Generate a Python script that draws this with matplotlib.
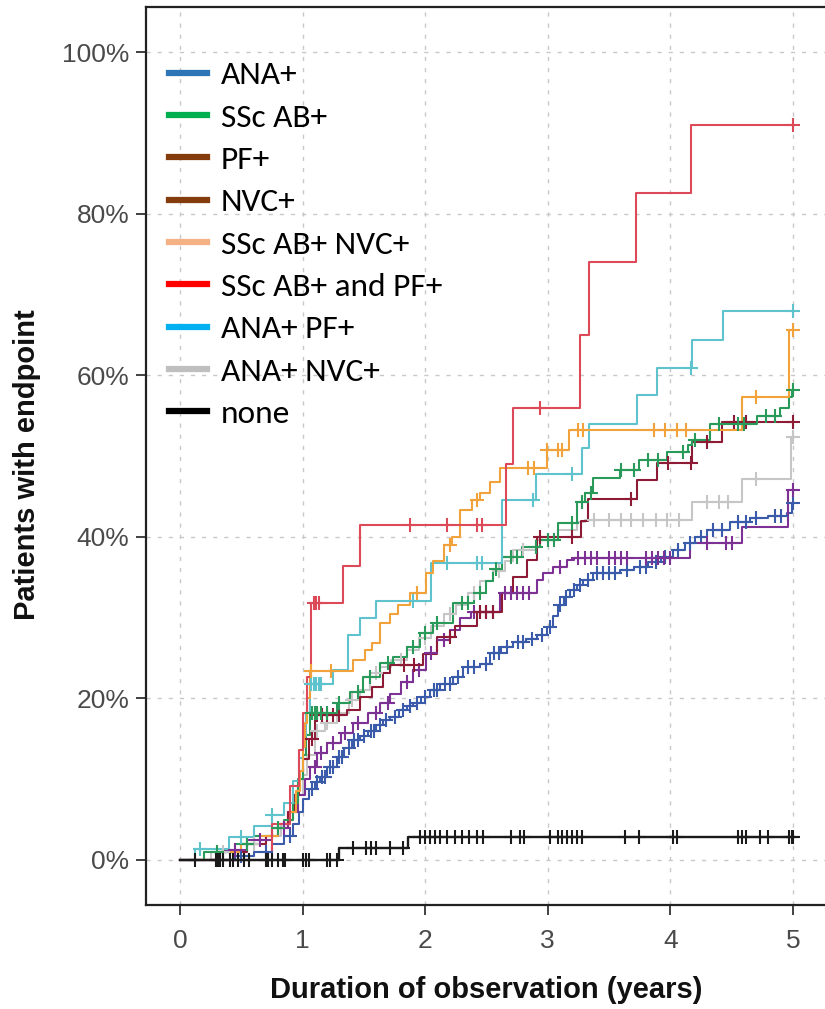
import numpy as np
import matplotlib
matplotlib.use("Agg")
import matplotlib.pyplot as plt
import matplotlib.font_manager as fm
from matplotlib.lines import Line2D

# ---- data (time in years, % with endpoint) ----
end_time = 5.0

# ANA+
blue_t = [0, 0.45, 0.6, 0.75, 0.85, 0.92, 0.97, 1.0, 1.05, 1.1, 1.14, 1.2, 1.28, 1.34, 1.4, 1.47,
          1.53, 1.6, 1.66, 1.71, 1.79, 1.85, 1.9, 1.97, 2.04, 2.12, 2.23, 2.31, 2.45, 2.53, 2.62,
          2.72, 2.82, 2.91, 2.99, 3.04, 3.08, 3.13, 3.18, 3.24, 3.29, 3.37, 3.59, 3.7, 3.82, 3.92,
          4.02, 4.12, 4.2, 4.3, 4.49, 4.65, 4.8, 4.95, 4.99]
blue_v = [0, 0.5, 1.0, 2.0, 3.0, 4.5, 6.0, 7.5, 8.8, 9.6, 10.3, 11.5, 12.7, 13.8, 14.8, 15.4,
          16.0, 16.7, 17.3, 17.7, 18.6, 19.0, 19.4, 20.2, 21.0, 21.8, 22.6, 23.9, 24.2, 25.6, 26.4,
          27.0, 27.4, 27.8, 28.8, 30.2, 31.5, 32.5, 33.4, 34.0, 34.6, 35.5, 35.9, 36.3, 36.9, 37.5,
          38.4, 39.2, 40.0, 40.8, 41.8, 42.3, 42.6, 43.0, 44.2]
blue_c = [0.5, 0.7, 0.9, 1.08, 1.12, 1.16, 1.18, 1.22, 1.25, 1.3, 1.32, 1.38, 1.42, 1.45, 1.5,
          1.56, 1.58, 1.63, 1.68, 1.75, 1.82, 1.88, 1.93, 2.0, 2.07, 2.1, 2.16, 2.2, 2.27, 2.35,
          2.4, 2.5, 2.56, 2.6, 2.67, 2.76, 2.8, 2.87, 2.95, 3.02, 3.1, 3.15, 3.21, 3.26, 3.33, 3.4,
          3.45, 3.5, 3.55, 3.65, 3.75, 3.8, 3.88, 3.96, 4.06, 4.16, 4.25, 4.35, 4.42, 4.55, 4.62,
          4.7, 4.85, 4.9, 5.0]

# SSc AB+
green_t = [0, 0.2, 0.45, 0.6, 0.75, 0.85, 0.92, 0.96, 1.0, 1.03, 1.06, 1.28, 1.39, 1.49, 1.63,
           1.74, 1.85, 1.96, 2.06, 2.23, 2.4, 2.5, 2.55, 2.63, 2.79, 2.94, 3.08, 3.24, 3.3, 3.37,
           3.59, 3.74, 3.97, 4.14, 4.18, 4.32, 4.71, 4.89, 4.97, 4.99]
green_v = [0, 1.0, 2.0, 3.0, 4.0, 5.0, 7.0, 10.0, 13.0, 15.5, 18.2, 19.4, 20.8, 22.6, 24.4,
           25.1, 26.4, 28.1, 29.3, 31.8, 33.0, 34.5, 36.0, 37.5, 38.7, 39.6, 41.7, 44.3, 45.4, 47.3,
           48.3, 49.5, 50.5, 51.4, 52.0, 54.0, 55.0, 56.0, 57.3, 58.2]
green_c = [0.3, 0.55, 0.8, 1.08, 1.1, 1.12, 1.15, 1.2, 1.3, 1.45, 1.55, 1.7, 1.9, 2.0, 2.1, 2.3,
           2.35, 2.45, 2.58, 2.7, 2.75, 2.9, 3.0, 3.05, 3.2, 3.28, 3.35, 3.6, 3.7, 3.82, 3.9, 4.1,
           4.2, 4.4, 4.55, 4.6, 4.78, 4.85, 5.0]

# PF+
maroon_t = [0, 0.3, 0.55, 0.7, 0.8, 0.88, 0.93, 0.97, 1.0, 1.05, 1.1, 1.36, 1.47, 1.57, 1.66,
            1.71, 1.98, 2.1, 2.24, 2.42, 2.63, 2.72, 2.83, 2.91, 3.27, 3.33, 3.73, 3.89, 4.18, 4.42]
maroon_v = [0, 1.0, 2.0, 3.0, 4.5, 6.0, 8.0, 10.0, 12.5, 15.0, 18.0, 18.6, 20.2, 21.4, 23.1,
            24.1, 25.5, 27.6, 29.0, 30.7, 33.0, 35.0, 37.1, 40.0, 42.0, 44.7, 47.0, 49.1, 51.7, 54.2]
maroon_c = [1.08, 1.12, 1.16, 1.2, 1.25, 1.3, 1.83, 1.91, 2.2, 2.45, 2.5, 2.55, 2.94, 3.2, 3.68,
            3.98, 4.17, 4.3, 4.52, 4.62, 5.0]

# NVC+
purple_t = [0, 0.35, 0.55, 0.75, 0.88, 0.96, 1.02, 1.06, 1.12, 1.2, 1.31, 1.41, 1.53, 1.63, 1.71,
            1.8, 1.9, 2.01, 2.1, 2.2, 2.28, 2.37, 2.61, 2.91, 2.96, 3.04, 3.16, 3.21, 4.16, 4.58,
            4.96]
purple_v = [0, 1.2, 2.5, 4.0, 6.0, 8.0, 10.0, 11.5, 13.2, 14.5, 15.7, 17.0, 18.2, 19.4, 20.6,
            22.0, 23.5, 25.6, 27.2, 28.5, 30.0, 30.7, 33.0, 34.6, 35.5, 36.3, 37.1, 37.4, 39.2, 41.2,
            45.8]
purple_c = [0.45, 0.65, 0.85, 1.1, 1.15, 1.25, 1.35, 1.45, 1.6, 1.7, 1.85, 1.95, 2.05, 2.15, 2.4,
            2.45, 2.5, 2.55, 2.65, 2.7, 2.75, 2.8, 2.85, 3.1, 3.25, 3.3, 3.35, 3.4, 3.5, 3.55, 3.6,
            3.65, 3.8, 3.85, 3.9, 3.95, 4.0, 4.3, 4.45, 4.5, 5.0]

# SSc AB+ NVC+
orange_t = [0, 0.3, 0.5, 0.65, 0.8, 0.9, 0.95, 0.98, 1.0, 1.02, 1.04, 1.06, 1.41, 1.51, 1.57,
            1.63, 1.71, 1.78, 1.88, 2.01, 2.06, 2.15, 2.22, 2.28, 2.38, 2.45, 2.53, 2.61, 2.99,
            3.17, 4.58, 4.97]
orange_v = [0, 1.0, 2.0, 3.0, 4.5, 6.0, 8.5, 11.0, 14.0, 17.0, 20.0, 23.4, 24.8, 26.0, 26.8,
            29.3, 30.5, 31.6, 33.0, 35.5, 37.0, 39.0, 40.0, 43.3, 44.5, 45.4, 46.8, 48.5, 50.7,
            53.2, 57.3, 65.6]
orange_c = [1.07, 1.23, 1.93, 2.2, 2.42, 2.84, 2.89, 2.99, 3.08, 3.12, 3.25, 3.29, 3.87, 3.96,
            4.05, 4.13, 4.7, 5.0]

# SSc AB+ and PF+
red_t = [0, 0.75, 0.9, 0.97, 1.0, 1.04, 1.07, 1.33, 1.47, 2.66, 2.72, 3.26, 3.34, 3.72, 4.17]
red_v = [0, 4.5, 9.1, 13.6, 18.2, 22.7, 31.8, 36.4, 41.5, 49.0, 56.0, 65.0, 74.0, 82.5, 91.0]
red_c = [1.09, 1.11, 1.13, 1.88, 2.18, 2.42, 2.46, 2.94, 5.0]

# ANA+ PF+
teal_t = [0, 0.12, 0.4, 0.6, 0.75, 0.85, 0.92, 0.97, 1.0, 1.03, 1.06, 1.25, 1.37, 1.47, 1.6,
          2.05, 2.63, 2.9, 3.28, 3.34, 3.73, 3.89, 4.18, 4.43]
teal_v = [0, 1.4, 2.8, 4.2, 5.6, 7.0, 9.8, 12.6, 15.4, 18.2, 21.8, 23.5, 27.8, 30.0, 32.0,
          36.8, 44.5, 47.8, 51.0, 54.0, 57.5, 60.9, 64.4, 68.0]
teal_c = [0.16, 0.5, 0.75, 1.07, 1.09, 1.11, 1.13, 1.15, 1.9, 2.18, 2.42, 2.46, 2.88, 3.2, 4.17,
          5.0]

# ANA+ NVC+
gray_t = [0, 0.25, 0.5, 0.7, 0.82, 0.9, 0.95, 1.0, 1.04, 1.1, 1.18, 1.28, 1.38, 1.47, 1.55, 1.63,
          1.72, 1.85, 1.95, 2.05, 2.15, 2.25, 2.35, 2.45, 2.55, 2.65, 2.72, 2.9, 3.08, 3.24, 3.3,
          4.18, 4.58, 4.98]
gray_v = [0, 1.0, 2.0, 3.0, 4.5, 6.0, 8.0, 10.5, 13.0, 16.0, 17.0, 18.2, 19.8, 21.0, 23.1, 23.9,
          24.8, 26.0, 27.5, 29.0, 30.5, 31.5, 33.0, 34.5, 35.8, 37.0, 38.4, 39.6, 40.8, 41.8, 42.1,
          44.3, 47.1, 52.4]
gray_c = [0.35, 0.6, 1.12, 1.2, 1.4, 1.6, 1.8, 2.0, 2.2, 2.4, 2.6, 2.8, 3.0, 3.38, 3.5, 3.6,
          3.68, 3.78, 3.88, 3.97, 4.07, 4.3, 4.4, 4.47, 4.7, 5.0]

# none
none_t = [0, 1.3, 1.86]
none_v = [0, 1.45, 2.9]
none_c = [0.12, 0.29, 0.31, 0.33, 0.35, 0.41, 0.43, 0.47, 0.52, 0.56, 0.7, 0.72, 0.75, 0.8, 0.84,
          0.86, 1.0, 1.03, 1.05, 1.2, 1.22, 1.28, 1.41, 1.52, 1.56, 1.6, 1.71, 1.82, 1.96, 2.0,
          2.04, 2.08, 2.12, 2.18, 2.24, 2.3, 2.36, 2.42, 2.47, 2.7, 2.77, 2.81, 3.02, 3.08, 3.12,
          3.16, 3.2, 3.24, 3.28, 3.63, 3.74, 4.02, 4.05, 4.55, 4.58, 4.62, 4.73, 4.8, 4.97, 4.99,
          5.0]

legend_labels = ["ANA+", "SSc AB+", "PF+", "NVC+", "SSc AB+ NVC+", "SSc AB+ and PF+",
                 "ANA+ PF+", "ANA+ NVC+", "none"]
legend_colors = ["#2E75B6", "#00B050", "#843C0C", "#843C0C", "#F4B183", "#FF0000",
                 "#00B0F0", "#BFBFBF", "#000000"]

x_ticks = [0, 1, 2, 3, 4, 5]
y_ticks = [0, 20, 40, 60, 80, 100]

# ---- fonts ----
names = {f.name for f in fm.fontManager.ttflist}
tick_font = "Liberation Sans" if "Liberation Sans" in names else "DejaVu Sans"
legend_font = "Carlito" if "Carlito" in names else "Open Sans"


def draw_curve(ax, times, values, censor, color, lw=1.5):
    t = list(times) + [end_time]
    v = list(values) + [values[-1]]
    ax.step(t, v, where="post", color=color, lw=lw, zorder=3)
    vals = np.array(values)
    idx = np.searchsorted(np.array(times), np.array(censor), side="right") - 1
    ax.plot(censor, vals[idx], "+", color=color, ms=9.5, mew=1.5, zorder=4, ls="none")


fig = plt.figure(figsize=(8.25, 10.09), dpi=100)
ax = fig.add_axes([146 / 825, 104 / 1009, 679 / 825, 898 / 1009])

ax.set_xlim(-0.277, 5.261)
ax.set_ylim(-5.57, 105.57)

# grid
ax.set_xticks(x_ticks)
ax.set_yticks(y_ticks)
ax.grid(True, color="#C8C8C8", lw=1.0, ls=(0, (3, 5)), zorder=0)

draw_curve(ax, gray_t, gray_v, gray_c, "#C6C6C6")
draw_curve(ax, blue_t, blue_v, blue_c, "#3A5BAA")
draw_curve(ax, purple_t, purple_v, purple_c, "#7E3195")
draw_curve(ax, maroon_t, maroon_v, maroon_c, "#8E1B35")
draw_curve(ax, green_t, green_v, green_c, "#2A9A5A")
draw_curve(ax, teal_t, teal_v, teal_c, "#5EC3CC")
draw_curve(ax, orange_t, orange_v, orange_c, "#F2A23A")
draw_curve(ax, red_t, red_v, red_c, "#DC4A5A")
draw_curve(ax, none_t, none_v, none_c, "#1A1A1A", lw=1.7)

# axes look
for side in ["left", "bottom", "top"]:
    ax.spines[side].set_linewidth(1.6)
    ax.spines[side].set_color("#222222")
ax.spines["right"].set_visible(False)

ax.set_yticklabels([f"{v}%" for v in y_ticks])
ax.tick_params(axis="both", direction="out", length=7, width=1.3, color="#333333",
               labelcolor="#4A4A4A", labelsize=19, pad=5)
ax.tick_params(axis="x", pad=10)
for lab in ax.get_xticklabels() + ax.get_yticklabels():
    lab.set_fontfamily(tick_font)

fig.text(27 / 825, 1 - 465 / 1009, "Patients with endpoint", rotation=90, ha="center",
         va="center", fontsize=21, fontweight="bold", family=tick_font, color="#111111")
fig.text(486 / 825, 1 - 990 / 1009, "Duration of observation (years)", ha="center",
         va="center", fontsize=21, fontweight="bold", family=tick_font, color="#111111")

handles = [Line2D([0], [0], color=c, lw=4.5) for c in legend_colors]
leg = ax.legend(handles, legend_labels, loc="upper left", bbox_to_anchor=(0.034, 0.94),
                frameon=False, prop={"family": legend_font, "size": 24},
                handlelength=1.15, handletextpad=0.4, labelspacing=0.42,
                borderpad=0, borderaxespad=0)
for t in leg.get_texts():
    t.set_color("#000000")

fig.savefig("out.png", dpi=100)
